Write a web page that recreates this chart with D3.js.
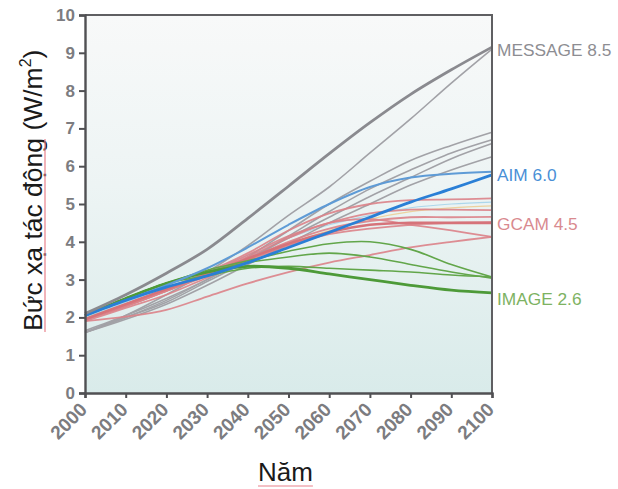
<!DOCTYPE html>
<html><head><meta charset="utf-8">
<script src="https://cdn.jsdelivr.net/npm/d3@7"></script>
<style>body{margin:0;background:#fff}svg{display:block}</style>
</head><body><svg id="c" width="618" height="489"></svg>
<script>
const years = [2000,2010,2020,2030,2040,2050,2060,2070,2080,2090,2100];
const yTicks = [0,1,2,3,4,5,6,7,8,9,10];

// gray (MESSAGE family)
const grayThin = [
  [1.6,2.05,2.6,3.2,3.9,4.7,5.45,6.35,7.25,8.2,9.1],
  [1.6,2.0,2.45,3.0,3.6,4.3,5.0,5.6,6.15,6.55,6.9],
  [1.6,2.0,2.4,2.95,3.5,4.15,4.8,5.4,5.9,6.35,6.7],
  [1.65,2.05,2.5,3.0,3.55,4.1,4.65,5.2,5.7,6.2,6.6],
  [1.6,1.95,2.35,2.85,3.4,3.95,4.5,5.0,5.5,5.9,6.25]
];
const messageMain = [2.1,2.6,3.17,3.8,4.62,5.47,6.33,7.15,7.9,8.55,9.15];

// red (GCAM family)
const redThin = [
  [1.95,2.35,2.75,3.2,3.7,4.3,4.75,5.0,5.1,5.12,5.15],
  [1.95,2.3,2.7,3.15,3.65,4.15,4.5,4.75,4.85,4.85,4.84],
  [1.95,2.3,2.7,3.1,3.55,4.0,4.35,4.55,4.65,4.65,4.66],
  [1.9,2.25,2.6,3.05,3.5,3.9,4.2,4.35,4.45,4.5,4.52],
  [1.95,2.3,2.7,3.15,3.6,4.1,4.5,4.6,4.45,4.3,4.13],
  [1.9,2.02,2.2,2.55,2.9,3.2,3.45,3.65,3.85,4.0,4.13]
];
const gcamMain = [1.95,2.35,2.75,3.15,3.55,3.95,4.25,4.45,4.5,4.5,4.5];

// green (IMAGE family)
const greenThin = [
  [2.05,2.5,2.9,3.25,3.5,3.75,3.95,4.0,3.8,3.4,3.07],
  [2.05,2.5,2.9,3.2,3.45,3.6,3.7,3.6,3.4,3.2,3.04],
  [2.05,2.5,2.9,3.1,3.3,3.35,3.3,3.25,3.2,3.12,3.07]
];
const imageMain = [2.05,2.5,2.9,3.2,3.35,3.3,3.15,3.0,2.85,2.72,2.65];

// blue (AIM family)
const blueThin = [
  [2.05,2.45,2.85,3.3,3.85,4.45,5.0,5.45,5.7,5.8,5.85]
];
const aimMain = [2.05,2.45,2.8,3.1,3.45,3.85,4.25,4.65,5.05,5.4,5.77];

// faint extra thin lines
const faint = [
  [2.0,2.35,2.7,3.1,3.5,3.95,4.3,4.6,4.8,4.9,4.95],
  [2.0,2.4,2.8,3.2,3.65,4.1,4.45,4.7,4.9,5.0,5.05]
];

const labels = [
  {text:"MESSAGE 8.5", value:9.07, color:"#8d8d92"},
  {text:"AIM 6.0", value:5.77, color:"#4a8fd6"},
  {text:"GCAM 4.5", value:4.47, color:"#d98a8f"},
  {text:"IMAGE 2.6", value:2.49, color:"#7db262"}
];

const svg = d3.select("#c");
const x = d3.scaleLinear().domain([2000,2100]).range([85,492]);
const y = d3.scaleLinear().domain([0,10]).range([393,15]);
const FONT = "Liberation Sans, Arial, sans-serif";

const defs = svg.append("defs");
const grad = defs.append("linearGradient").attr("id","bg").attr("x1",0).attr("y1",0).attr("x2",0).attr("y2",1);
grad.append("stop").attr("offset","0%").attr("stop-color","#f8f9f9");
grad.append("stop").attr("offset","45%").attr("stop-color","#edf4f4");
grad.append("stop").attr("offset","100%").attr("stop-color","#d9ebea");

svg.append("rect").attr("x",x(2000)).attr("y",y(10)).attr("width",x(2100)-x(2000)).attr("height",y(0)-y(10)).attr("fill","url(#bg)");

const line = d3.line().x((d,i)=>x(years[i])).y(d=>y(d)).curve(d3.curveCatmullRom.alpha(0.5));
const g = svg.append("g");
function draw(arr, color, w, op){
  g.append("path").datum(arr).attr("d",line).attr("fill","none").attr("stroke",color).attr("stroke-width",w).attr("stroke-opacity",op).attr("stroke-linejoin","round");
}
faint.forEach((s,i)=>draw(s, i? "#9ed0e8":"#ecc98a", 1.2, 0.8));
grayThin.forEach(s=>draw(s,"#a2a2a7",1.6,1));
redThin.forEach(s=>draw(s,"#dc8288",1.8,0.9));
draw(gcamMain,"#d6737a",2.6,1);
greenThin.forEach(s=>draw(s,"#62a64a",1.6,1));
draw(imageMain,"#4d9a38",2.8,1);
blueThin.forEach(s=>draw(s,"#5e9bd6",2,1));
draw(aimMain,"#2a7fd6",2.8,1);
draw(messageMain,"#8a8a8f",2.8,1);

// frame
svg.append("path").attr("d",`M${x(2000)},${y(10)}H${x(2100)}V${y(0)}`).attr("fill","none").attr("stroke","#5f5f62").attr("stroke-width",2);

const yAxis = svg.append("g").attr("transform",`translate(${x(2000)},0)`).call(d3.axisLeft(y).tickValues(yTicks).tickSize(6).tickPadding(4).tickFormat(d3.format("d")));
const xAxis = svg.append("g").attr("transform",`translate(0,${y(0)})`).call(d3.axisBottom(x).tickValues(years).tickSize(5).tickFormat(d3.format("d")));
[yAxis,xAxis].forEach(a=>{
  a.select(".domain").attr("stroke","#505053").attr("stroke-width",2.4);
  a.selectAll(".tick line").attr("stroke","#505053").attr("stroke-width",2);
  a.selectAll("text").attr("fill","#7c7c80").attr("font-family",FONT).attr("font-weight","bold").attr("font-size",17);
});
xAxis.selectAll("text").attr("font-size",19).attr("text-anchor","end").attr("x",0).attr("y",0).attr("dy","0.35em").attr("transform","translate(-2,13) rotate(-45)");

// series labels
svg.append("g").selectAll("text").data(labels).join("text")
  .attr("x",x(2100)+5).attr("y",d=>y(d.value)).attr("dy","0.35em")
  .attr("fill",d=>d.color).attr("font-family",FONT).attr("font-size",17.3)
  .text(d=>d.text);

// y title
const yt = svg.append("text").attr("transform","translate(42,331) rotate(-90)")
  .attr("font-family",FONT).attr("font-size",26.5).attr("fill","#1a1a1a");
yt.append("tspan").text("Bức xạ tác động (W/m");
yt.append("tspan").text("2").attr("font-size",16).attr("dy",-11);
yt.append("tspan").text(")").attr("dy",11);
let ulen = 200;
try { ulen = yt.node().getSubStringLength(0,15); } catch(e){}
svg.append("line").attr("x1",45).attr("x2",45).attr("y1",332).attr("y2",332-ulen).attr("stroke","#e8828c").attr("stroke-width",1.2);

// x title
const xt = svg.append("text").attr("x",258).attr("y",481)
  .attr("font-family",FONT).attr("font-size",26).attr("fill","#1a1a1a").text("Năm");
const xl = xt.node().getComputedTextLength();
svg.append("line").attr("x1",258).attr("x2",258+xl).attr("y1",486).attr("y2",486).attr("stroke","#e8828c").attr("stroke-width",1.2);
</script></body></html>
